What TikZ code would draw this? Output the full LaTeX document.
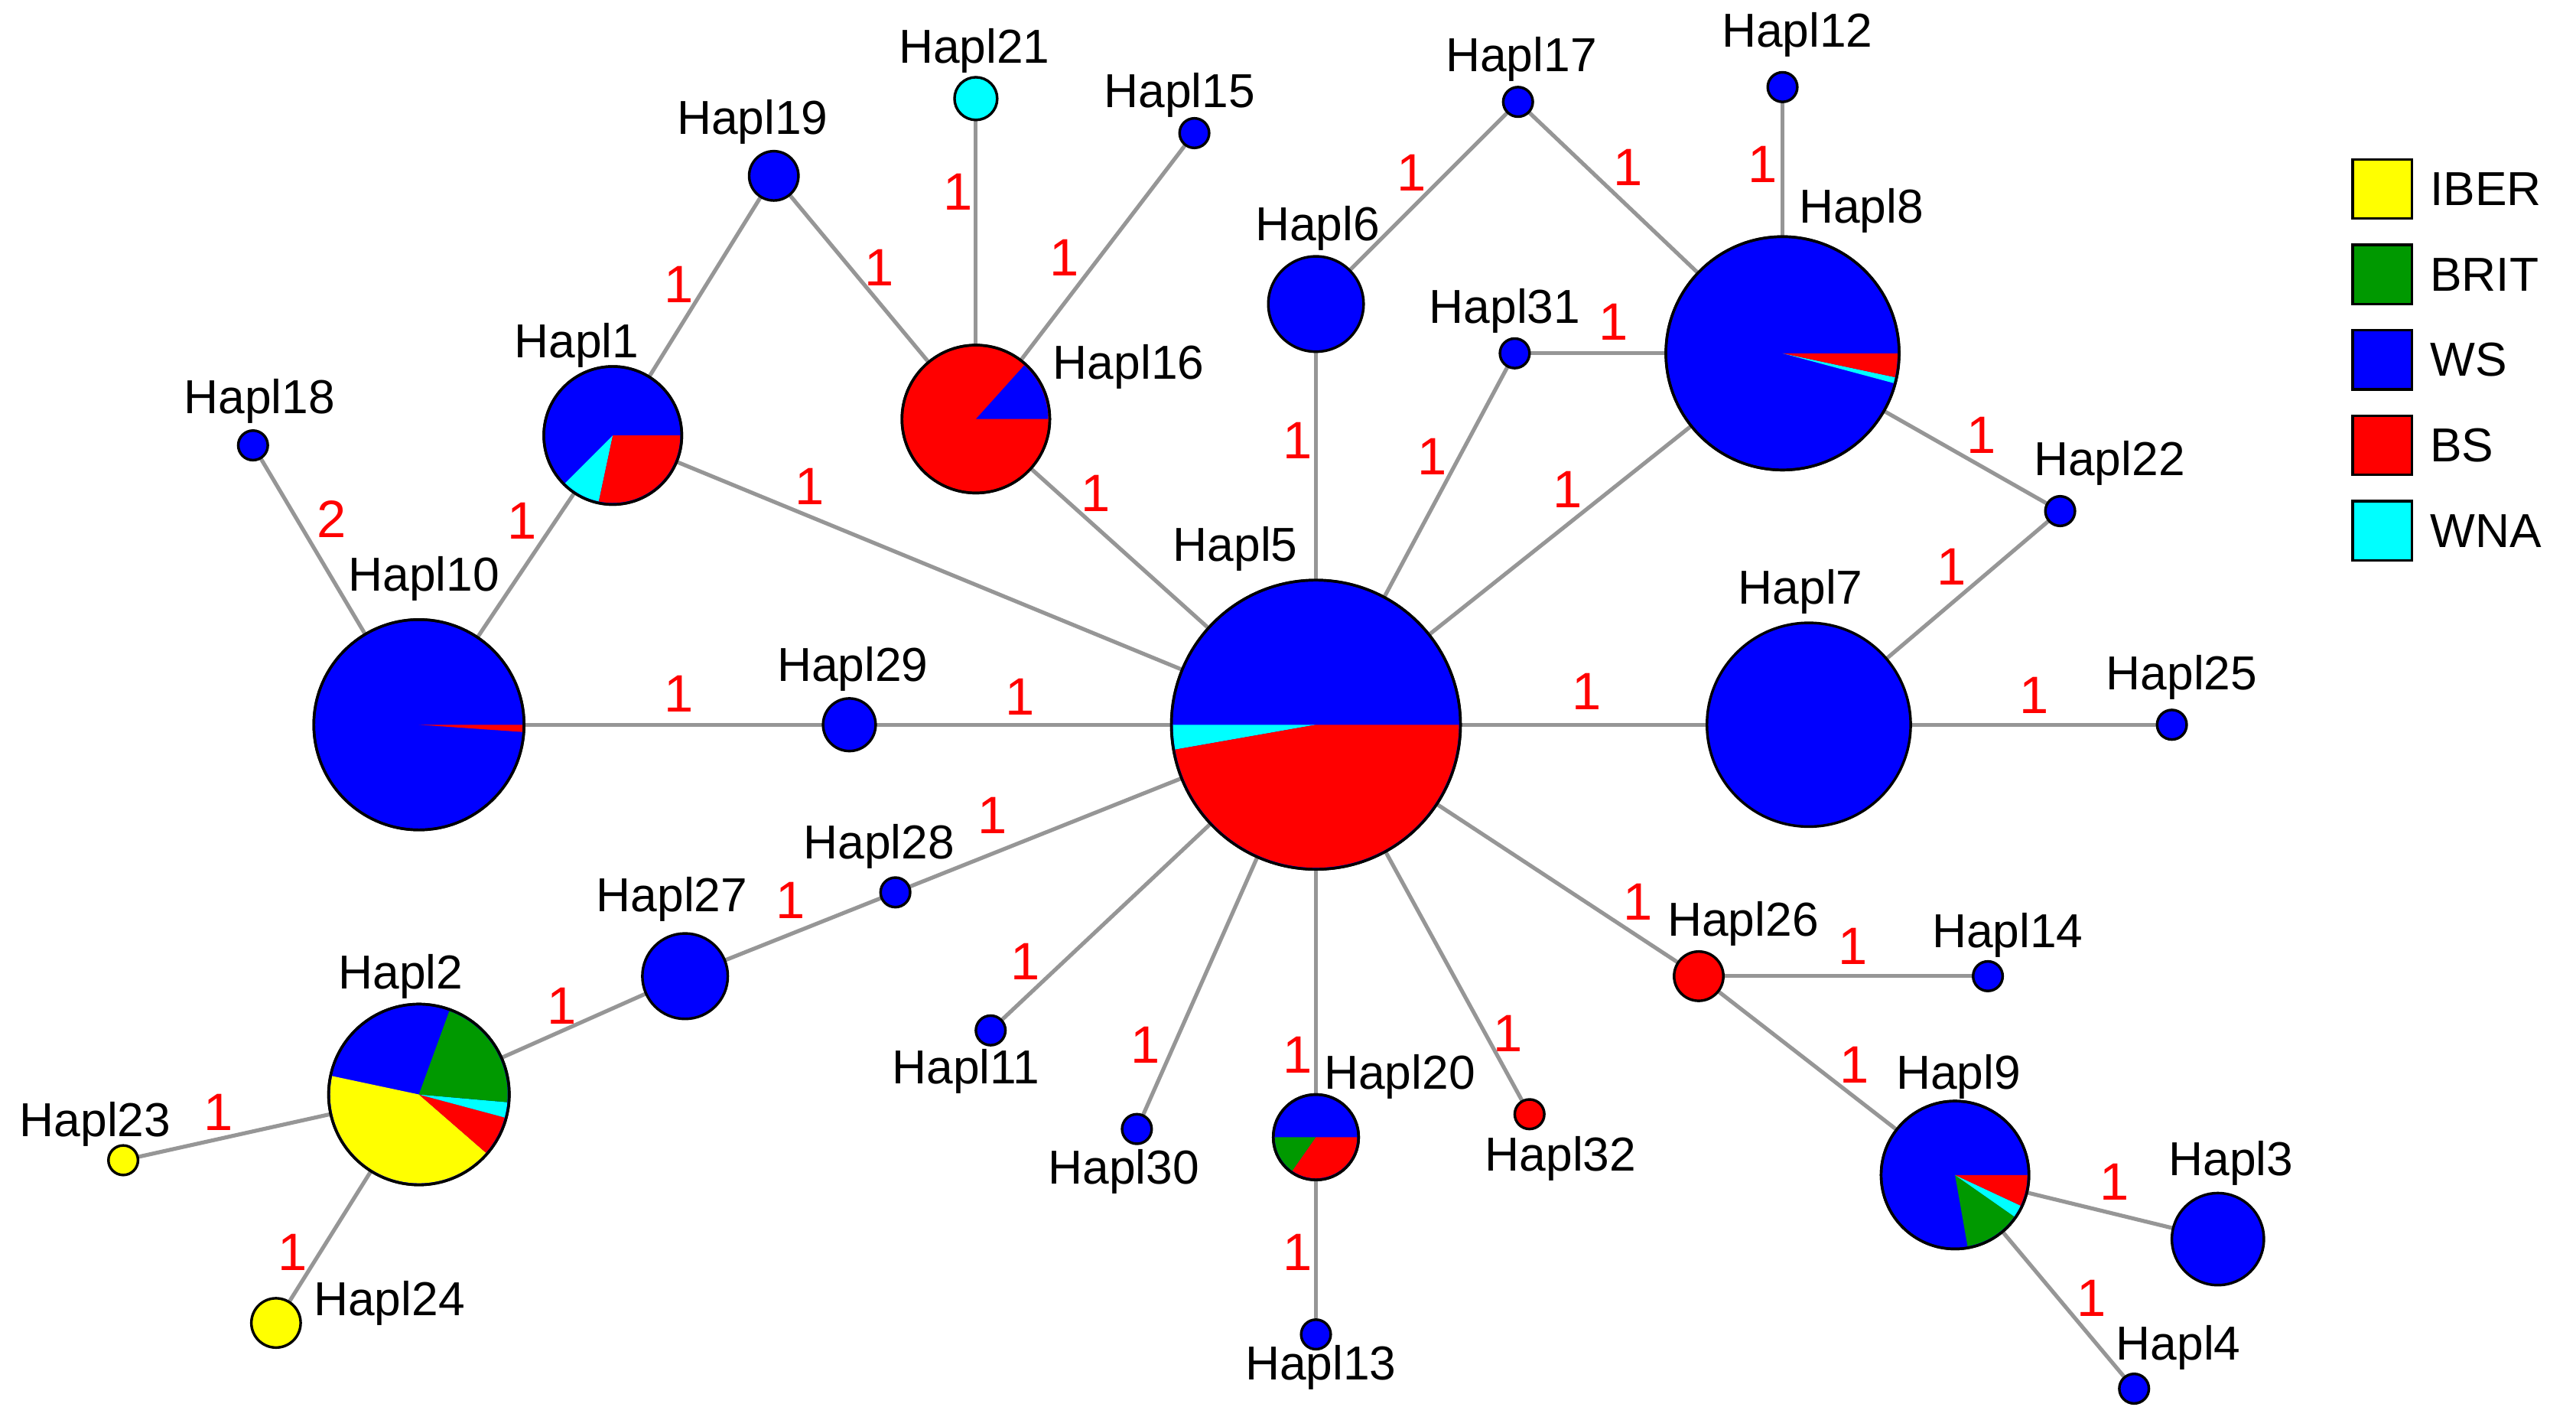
\documentclass[tikz,border=0pt]{standalone}
\usepackage{fontspec}
\setmainfont{Liberation Sans}
\usetikzlibrary{backgrounds}
\definecolor{hblue}{RGB}{0,0,255}
\definecolor{hred}{RGB}{255,0,0}
\definecolor{hyellow}{RGB}{255,255,0}
\definecolor{hgreen}{RGB}{0,153,0}
\definecolor{hcyan}{RGB}{0,255,255}
\definecolor{hedge}{RGB}{150,150,150}
\tikzset{
  hap/.style={circle, draw=black, line width=1.6pt, inner sep=0pt, minimum size=#1},
  lbl/.style={font=\fontsize{29}{32}\selectfont, inner sep=1pt},
  cnt/.style={font=\fontsize{32}{34}\selectfont, text=hred, inner sep=1pt},
  link/.style={draw=hedge, line width=2.4pt},
  key/.style={draw=black, line width=1.6pt, minimum size=36pt, inner sep=0pt},
}
% pie slice: node, radius, start, end, colour
\newcommand\pieslice[5]{\fill[#5] (#1.center) -- ++(#3:#2) arc[start angle=#3, end angle=#4, radius=#2] -- cycle;}
\begin{document}
\begin{tikzpicture}[x=1pt,y=1pt]
\useasboundingbox (0,0) rectangle (1568,-864);
% haplotype circles
\node[hap=176pt, fill=hblue] (h5) at (801,-441) {};
\node[hap=128pt, fill=hblue] (h10) at (255,-441) {};
\node[hap=84pt, fill=hblue] (h1) at (373,-265) {};
\node[hap=90pt, fill=hred] (h16) at (594,-255) {};
\node[hap=30pt, fill=hblue] (h19) at (471,-107) {};
\node[hap=26pt, fill=hcyan] (h21) at (594,-60) {};
\node[hap=18pt, fill=hblue] (h15) at (727,-81) {};
\node[hap=18pt, fill=hblue] (h18) at (154,-271) {};
\node[hap=58pt, fill=hblue] (h6) at (801,-185) {};
\node[hap=18pt, fill=hblue] (h17) at (924,-62) {};
\node[hap=18pt, fill=hblue] (h12) at (1085,-53) {};
\node[hap=142pt, fill=hblue] (h8) at (1085,-215) {};
\node[hap=18pt, fill=hblue] (h31) at (922,-215) {};
\node[hap=18pt, fill=hblue] (h22) at (1254,-311) {};
\node[hap=124pt, fill=hblue] (h7) at (1101,-441) {};
\node[hap=18pt, fill=hblue] (h25) at (1322,-441) {};
\node[hap=32pt, fill=hblue] (h29) at (517,-441) {};
\node[hap=18pt, fill=hblue] (h28) at (545,-543) {};
\node[hap=52pt, fill=hblue] (h27) at (417,-594) {};
\node[hap=110pt, fill=hblue] (h2) at (255,-666) {};
\node[hap=18pt, fill=hyellow] (h23) at (75,-706) {};
\node[hap=30pt, fill=hyellow] (h24) at (168,-805) {};
\node[hap=18pt, fill=hblue] (h11) at (603,-627) {};
\node[hap=18pt, fill=hblue] (h30) at (692,-687) {};
\node[hap=52pt, fill=hblue] (h20) at (801,-692) {};
\node[hap=18pt, fill=hblue] (h13) at (801,-812) {};
\node[hap=18pt, fill=hred] (h32) at (931,-678) {};
\node[hap=30pt, fill=hred] (h26) at (1034,-594) {};
\node[hap=18pt, fill=hblue] (h14) at (1210,-594) {};
\node[hap=90pt, fill=hblue] (h9) at (1190,-715) {};
\node[hap=56pt, fill=hblue] (h3) at (1350,-754) {};
\node[hap=18pt, fill=hblue] (h4) at (1299,-845) {};
% pie slices
\pieslice{h5}{87}{180}{190}{hcyan}
\pieslice{h5}{87}{190}{360}{hred}
\pieslice{h10}{63}{356}{360}{hred}
\pieslice{h1}{41}{225}{258}{hcyan}
\pieslice{h1}{41}{258}{360}{hred}
\pieslice{h16}{44}{0}{48}{hblue}
\pieslice{h8}{70}{345}{348}{hcyan}
\pieslice{h8}{70}{348}{360}{hred}
\pieslice{h2}{54}{168}{319}{hyellow}
\pieslice{h2}{54}{319}{345}{hred}
\pieslice{h2}{54}{345}{355}{hcyan}
\pieslice{h2}{54}{-5}{70}{hgreen}
\pieslice{h20}{25}{180}{235}{hgreen}
\pieslice{h20}{25}{235}{360}{hred}
\pieslice{h9}{44}{280}{325}{hgreen}
\pieslice{h9}{44}{325}{335}{hcyan}
\pieslice{h9}{44}{335}{360}{hred}
% outlines again
\foreach \p/\r in {h5/88,h10/64,h1/42,h16/45,h8/71,h2/55,h20/26,h9/45}
  \draw[line width=1.6pt] (\p.center) circle[radius=\r];
% links
\begin{scope}[on background layer]
\foreach \a/\b in {h10/h29,h29/h5,h5/h1,h1/h10,h10/h18,h1/h19,h19/h16,h16/h21,h16/h15,h16/h5,
  h5/h6,h6/h17,h17/h8,h8/h12,h31/h8,h5/h31,h5/h8,h8/h22,h22/h7,h5/h7,h7/h25,h5/h28,h28/h27,
  h27/h2,h2/h23,h2/h24,h5/h11,h5/h30,h5/h20,h20/h13,h5/h32,h5/h26,h26/h14,h26/h9,h9/h3,h9/h4}
  \draw[link] (\a.center) -- (\b.center);
\end{scope}
% step counts
\foreach \x/\y/\t in {413/422/1,621/424/1,493/296/1,318/317/1,202/316/2,413/173/1,535/163/1,
  583/117/1,648/157/1,667/300/1,790/268/1,859/105/1,991/102/1,1073/100/1,982/196/1,872/278/1,
  954/298/1,1206/265/1,1188/345/1,966/421/1,1238/423/1,604/496/1,481/548/1,342/612/1,133/677/1,
  178/762/1,624/585/1,697/636/1,790/642/1,790/762/1,918/629/1,997/549/1,1128/576/1,1129/648/1,
  1287/719/1,1273/790/1}
  \node[cnt] at (\x,-\y) {\t};
% haplotype names
\foreach \x/\y/\t in {593/31/21,718/58/15,458/74/19,351/210/1,158/244/18,687/223/16,258/352/10,
  519/407/29,752/334/5,802/139/6,926/36/17,1094/21/12,1133/128/8,916/189/31,1284/282/22,
  1096/360/7,1328/412/25,535/515/28,409/547/27,244/594/2,58/684/23,237/793/24,588/652/11,
  684/713/30,852/655/20,804/832/13,950/705/32,1061/562/26,1222/569/14,1192/655/9,1358/708/3,
  1326/820/4}
  \node[lbl] (n\t) at (\x,-\y) {Hapl\t};
% legend
\foreach \c/\t [count=\i] in {hyellow/IBER,hgreen/BRIT,hblue/WS,hred/BS,hcyan/WNA}{
  \node[key, fill=\c] (k\i) at (1450,-63-52*\i) {};
  \node[lbl, anchor=west] (t\i) at (1478,-63-52*\i) {\t};
}
\end{tikzpicture}
\end{document}
